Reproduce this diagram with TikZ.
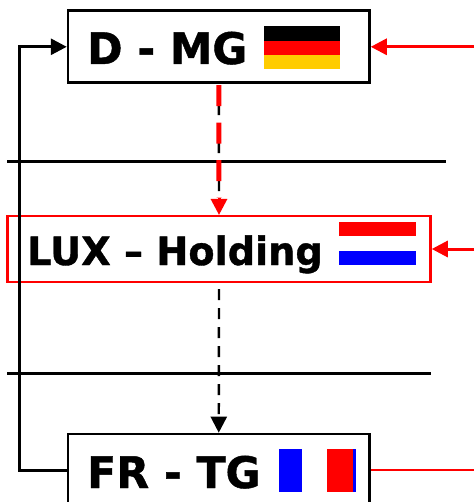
\documentclass[tikz,border=0pt]{standalone}
\usepackage{fontspec}
\setmainfont[BoldFont={DejaVu Sans Bold},BoldFeatures={FakeBold=1,FakeStretch=0.98}]{DejaVu Sans}
\usetikzlibrary{arrows.meta}
\definecolor{flaggold}{RGB}{255,204,0}
\tikzset{
  boxnode/.style={draw=black,fill=white,line width=2.6pt,inner sep=0pt,minimum width=301.4pt,minimum height=72pt},
  redbox/.style={draw=red,fill=white,line width=2.5pt,inner sep=0pt,minimum width=423pt,minimum height=65.6pt},
  bigtext/.style={inner sep=0pt,anchor=base west,font=\fontsize{43.5}{43.5}\selectfont\bfseries},
  midtext/.style={inner sep=0pt,anchor=base west,font=\fontsize{39}{39}\selectfont\bfseries},
  rule/.style={draw=black,line width=3pt},
  redtip/.style={-{Triangle[length=16pt,width=16pt]},draw=red,line width=3pt},
  blacktip/.style={-{Triangle[length=16pt,width=16pt]},draw=black,line width=3pt},
  blackdash/.style={draw=black,line width=2.4pt,dash pattern=on 11pt off 8pt},
  reddash/.style={draw=red,line width=5pt,dash pattern=on 21pt off 16.5pt}
}
\begin{document}
\begin{tikzpicture}[x=1pt,y=-1pt]
\useasboundingbox (0,0) rectangle (474,502);
\clip (0,0) rectangle (474,502);
% separator rules
\coordinate (r1a) at (7,161.5); \coordinate (r1b) at (446,161.5);
\coordinate (r2a) at (7,373.5); \coordinate (r2b) at (431,373.5);
\draw[rule] (r1a) -- (r1b);
\draw[rule] (r2a) -- (r2b);
% boxes
\node[boxnode] (dmg) at (218.75,46.8) {};
\node[redbox] (lux) at (219,249) {};
\node[boxnode] (fr) at (218.75,470) {};
% labels
\node[bigtext] (dmgt) at (87,64) {D - MG};
\node[midtext] (luxt) at (27,265) {LUX – Holding};
\node[bigtext] (frt) at (87,488) {FR - TG};
% flags
\fill[black] (264,26) rectangle (340,41);
\fill[red] (264,41) rectangle (340,55);
\fill[flaggold] (264,55) rectangle (340,69);
\fill[red] (339,222) rectangle (416,236);
\fill[blue] (339,251) rectangle (416,265);
\fill[blue] (279,449) rectangle (302,492);
\fill[red] (327,449) rectangle (353,492);
\fill[blue] (353,449) rectangle (356,492);
% connectors
\coordinate (reda) at ([yshift=-1pt]dmg.south);
\coordinate (redb) at ([yshift=17pt]lux.north);
\coordinate (blka) at ([yshift=-6pt]lux.south);
\draw[blackdash] (reda) -- (redb);
\draw[reddash] (reda) -- (redb);
\draw[redtip] (redb) -- (lux.north);
\draw[blackdash,-{Triangle[length=16pt,width=16pt]}] (blka) -- (fr.north);
\coordinate (in1) at (474,46.8);
\coordinate (in2) at (474,249);
\coordinate (out3) at (474,470);
\coordinate (bend) at (19.5,470);
\draw[redtip] (in1) -- (dmg.east);
\draw[redtip] (in2) -- (lux.east);
\draw[draw=red,line width=2.8pt] (fr.east) -- (out3);
\draw[blacktip] (fr.west) -- (bend) |- (dmg.west);
\end{tikzpicture}
\end{document}
